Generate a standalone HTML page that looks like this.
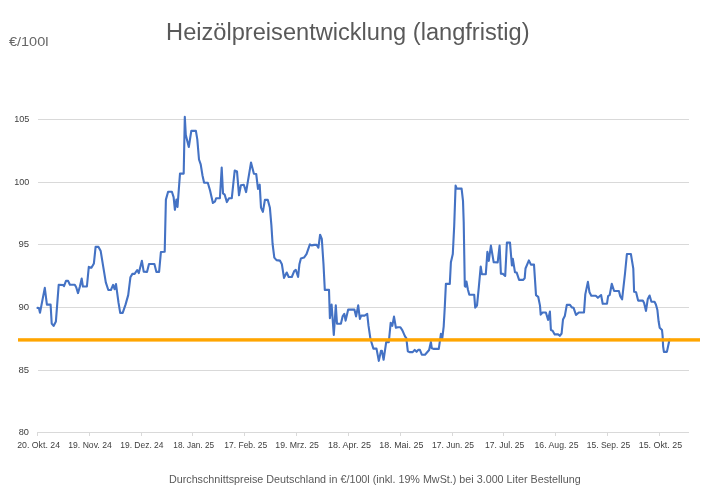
<!DOCTYPE html>
<html><head><meta charset="utf-8"><title>Heizölpreisentwicklung (langfristig)</title>
<style>
html,body{margin:0;padding:0;background:#fff;}
body{width:715px;height:502px;overflow:hidden;}
svg{display:block;}
text{font-family:"Liberation Sans", Arial, sans-serif;fill:#595959;}
.ax{font-size:8.8px;fill:#404040;}
.title{font-size:23.1px;}
.unit{font-size:13.1px;fill:#666666;}
.foot{font-size:11px;}
</style></head><body>
<svg width="715" height="502" viewBox="0 0 715 502">
<rect width="715" height="502" fill="#ffffff"/>
<rect x="38" y="119" width="651" height="1" fill="#d9d9d9"/>
<rect x="38" y="182" width="651" height="1" fill="#d9d9d9"/>
<rect x="38" y="244" width="651" height="1" fill="#d9d9d9"/>
<rect x="38" y="307" width="651" height="1" fill="#d9d9d9"/>
<rect x="38" y="370" width="651" height="1" fill="#d9d9d9"/>
<rect x="37" y="432" width="652" height="1" fill="#d9d9d9"/>
<rect x="37" y="433" width="1" height="3" fill="#d9d9d9"/>
<rect x="89" y="433" width="1" height="3" fill="#d9d9d9"/>
<rect x="141" y="433" width="1" height="3" fill="#d9d9d9"/>
<rect x="192" y="433" width="1" height="3" fill="#d9d9d9"/>
<rect x="244" y="433" width="1" height="3" fill="#d9d9d9"/>
<rect x="296" y="433" width="1" height="3" fill="#d9d9d9"/>
<rect x="348" y="433" width="1" height="3" fill="#d9d9d9"/>
<rect x="400" y="433" width="1" height="3" fill="#d9d9d9"/>
<rect x="452" y="433" width="1" height="3" fill="#d9d9d9"/>
<rect x="503" y="433" width="1" height="3" fill="#d9d9d9"/>
<rect x="555" y="433" width="1" height="3" fill="#d9d9d9"/>
<rect x="607" y="433" width="1" height="3" fill="#d9d9d9"/>
<rect x="659" y="433" width="1" height="3" fill="#d9d9d9"/>
<text x="14.16" y="122" textLength="15.16" lengthAdjust="spacingAndGlyphs" class="ax">105</text>
<text x="14.24" y="185" textLength="15.06" lengthAdjust="spacingAndGlyphs" class="ax">100</text>
<text x="18.52" y="247" textLength="10.63" lengthAdjust="spacingAndGlyphs" class="ax">95</text>
<text x="18.52" y="310" textLength="10.63" lengthAdjust="spacingAndGlyphs" class="ax">90</text>
<text x="18.52" y="373" textLength="10.63" lengthAdjust="spacingAndGlyphs" class="ax">85</text>
<text x="18.69" y="435" textLength="10.24" lengthAdjust="spacingAndGlyphs" class="ax">80</text>
<text x="17.2" y="448" textLength="42.83" lengthAdjust="spacingAndGlyphs" class="ax">20. Okt. 24</text>
<text x="68.25" y="448" textLength="43.48" lengthAdjust="spacingAndGlyphs" class="ax">19. Nov. 24</text>
<text x="120.26" y="448" textLength="43.26" lengthAdjust="spacingAndGlyphs" class="ax">19. Dez. 24</text>
<text x="173.32" y="448" textLength="40.77" lengthAdjust="spacingAndGlyphs" class="ax">18. Jan. 25</text>
<text x="224.25" y="448" textLength="43.05" lengthAdjust="spacingAndGlyphs" class="ax">17. Feb. 25</text>
<text x="275.33" y="448" textLength="43.58" lengthAdjust="spacingAndGlyphs" class="ax">19. Mrz. 25</text>
<text x="328.02" y="448" textLength="43.11" lengthAdjust="spacingAndGlyphs" class="ax">18. Apr. 25</text>
<text x="379.28" y="448" textLength="44.15" lengthAdjust="spacingAndGlyphs" class="ax">18. Mai. 25</text>
<text x="431.95" y="448" textLength="42.15" lengthAdjust="spacingAndGlyphs" class="ax">17. Jun. 25</text>
<text x="485.11" y="448" textLength="39.2" lengthAdjust="spacingAndGlyphs" class="ax">17. Jul. 25</text>
<text x="534.55" y="448" textLength="43.91" lengthAdjust="spacingAndGlyphs" class="ax">16. Aug. 25</text>
<text x="586.77" y="448" textLength="43.34" lengthAdjust="spacingAndGlyphs" class="ax">15. Sep. 25</text>
<text x="638.74" y="448" textLength="43.38" lengthAdjust="spacingAndGlyphs" class="ax">15. Okt. 25</text>
<polyline points="37.5,307.9 38.9,308.1 40,312.7 44.8,287.9 46.9,304.6 50.6,304.6 51.7,323.5 53.6,325.9 55.9,321.4 58.7,284.8 63.6,285.1 64,286.2 66,280.9 68.1,280.9 69.9,284.8 74.8,284.8 76.2,287.2 78,293.1 79.9,286.5 81.7,278.6 82.9,286.5 86.9,286.5 88.8,266.9 91.4,267.8 93.9,263.4 95.6,246.9 98.5,246.9 100.7,251.1 103.3,267.2 105.8,282.4 108.3,290 110.9,290 113.1,284.9 114.6,289.2 116,284.1 118.5,302.7 120.2,312.9 122.7,312.9 125.6,304.4 128.2,295.1 130.4,277.3 132.4,273.9 134.6,273.9 137.2,270 138.8,273.1 141.9,260.8 143.7,271.7 147,271.9 149,264 154.4,264 156.4,271.9 159.1,271.9 160.9,252 164.7,251.8 165.9,199.6 168.1,191.7 171.9,191.7 173.6,197.1 174.9,209.8 176.4,199.6 177.5,206.9 180,173.6 183.7,173.6 184.8,116.7 185.8,135.1 188.8,147 191.3,130.9 195.9,130.9 197.3,139.3 199,159.5 200.7,164.4 202.5,175.5 204.1,182.7 207.8,182.7 210,190.3 212.9,203 215.1,201.3 216.1,198.2 219.9,198.2 221.7,167.5 223,193.4 224.7,194.7 226.9,202.1 229,198.2 231.8,198.2 234.7,170.5 237,171.4 239,195.3 240.9,185.2 243.8,184.7 246.1,192.1 251,162.6 253.9,173.7 256.2,174 258,188.9 259.7,184.7 261,207.6 262.9,211.9 264.9,199.9 267.8,199.9 269.9,207.8 271.4,225.4 272.6,244 274.3,257.6 276.5,260.1 279.9,260.6 281.9,264.3 284,277.9 286.7,272.5 288.7,277 291.8,277 294.2,271.1 295.8,269.8 298.1,277 299.4,264.3 300.9,258.4 304,257.6 306.5,254.2 309.9,244.4 311.6,245.4 314.2,244.9 316.7,244.9 318.4,247.7 320.1,234.7 321.8,238.9 323.5,264.3 324.8,289.9 329,289.9 329.9,318.1 331.6,304.6 333.8,335 335.8,305.4 337,323.7 340.9,323.7 342.6,316.4 344.3,313.9 345.6,320.6 348.2,309.6 354.4,309.6 356.1,316.4 358.2,305.4 359.9,318.9 361.2,315.6 364.6,315.6 367.2,313.9 368.5,325.7 370.5,339.3 373.4,348.6 376.5,348.6 378.8,360.9 381,350.8 381.9,350.8 383.6,359.8 386.2,342.1 388.8,342.1 390.7,322.7 392.3,325.9 394,316.6 395.9,327.8 397.8,327.2 400.4,327.2 402.4,330.4 405,336.3 406.3,338.2 407.8,351.2 409.5,352.1 412.7,352.1 414.7,349.9 416.6,351.8 418.2,349.9 419.9,349.9 421.8,354.7 425,354.7 429.1,350 430.9,341.9 431.8,348.3 433.9,348.9 438.8,348.9 440.9,333.9 442.3,338.1 443.7,326.3 444.8,306.7 445.9,283.9 449.8,283.9 450.9,262.3 452.8,254 454.2,226 455.6,185.6 456.7,188.6 461.6,188.6 463,200.9 463.7,221.8 464.8,286 465.5,286.7 466.5,281.6 467.9,289.5 469.3,294.7 474.2,294.7 475.2,307.6 477,305.6 478.8,287.4 480.7,266.5 481.9,274.2 485.8,274.2 487.4,251.9 488.8,260.9 490.9,245.6 493.7,262.3 497.7,262.4 499.6,245.5 500.9,273.6 503.1,273.9 505.2,276 506.9,242.6 510,242.6 511.9,265.5 512.8,258.7 515,272.3 516.7,272.6 519.1,279.9 523,279.9 524.7,278.2 525.5,268.5 528.9,260.4 530.9,264.6 534,264.6 536,295.1 538.2,296.8 540,305.6 540.7,314.6 542.5,312.5 545.9,312.5 548.1,319.9 549.9,311.6 550.9,330 552.6,330.7 554.7,334.4 558.1,334.4 559.8,335.8 561.6,333.5 563,319.5 564.8,316 566.8,304.9 570,304.9 571.8,307.4 573.5,307.7 576,314.9 578.8,312.5 584,312.5 585.3,294.4 587.9,281.9 589.5,292.3 591.3,295.8 595.8,295.8 597.9,297.8 601.1,295 602.7,303.7 607,303.7 608.1,296.1 609.7,295 611.8,283.8 614.1,291 618.9,291 620.2,296.1 622.1,299.3 625,273.5 626.9,254 630.9,254 633.3,268.7 634.1,291.8 636.1,292.2 638.1,300.6 642.8,300.6 644.1,303.1 646,310.9 647.8,298.9 649.6,295.5 651.4,301.7 654.5,301.7 655.9,304.5 657.4,310.1 658.6,321.3 659.7,327.8 662,330 662.6,335.9 663.1,346.3 663.9,351.9 666.9,351.9 669.1,341.5 669.5,339.5" fill="none" stroke="#4472c4" stroke-width="2.1" stroke-linejoin="round" stroke-linecap="round"/>
<rect x="18" y="338.2" width="682" height="3.4" fill="#ffa500"/>
<text x="166.11" y="39.7" textLength="363.44" lengthAdjust="spacingAndGlyphs" class="title">Heizölpreisentwicklung (langfristig)</text>
<text x="8.9" y="46" textLength="39.6" lengthAdjust="spacingAndGlyphs" class="unit">€/100l</text>
<text x="168.94" y="482.8" textLength="411.76" lengthAdjust="spacingAndGlyphs" class="foot">Durchschnittspreise Deutschland in €/100l (inkl. 19% MwSt.) bei 3.000 Liter Bestellung</text>
</svg>
</body></html>
